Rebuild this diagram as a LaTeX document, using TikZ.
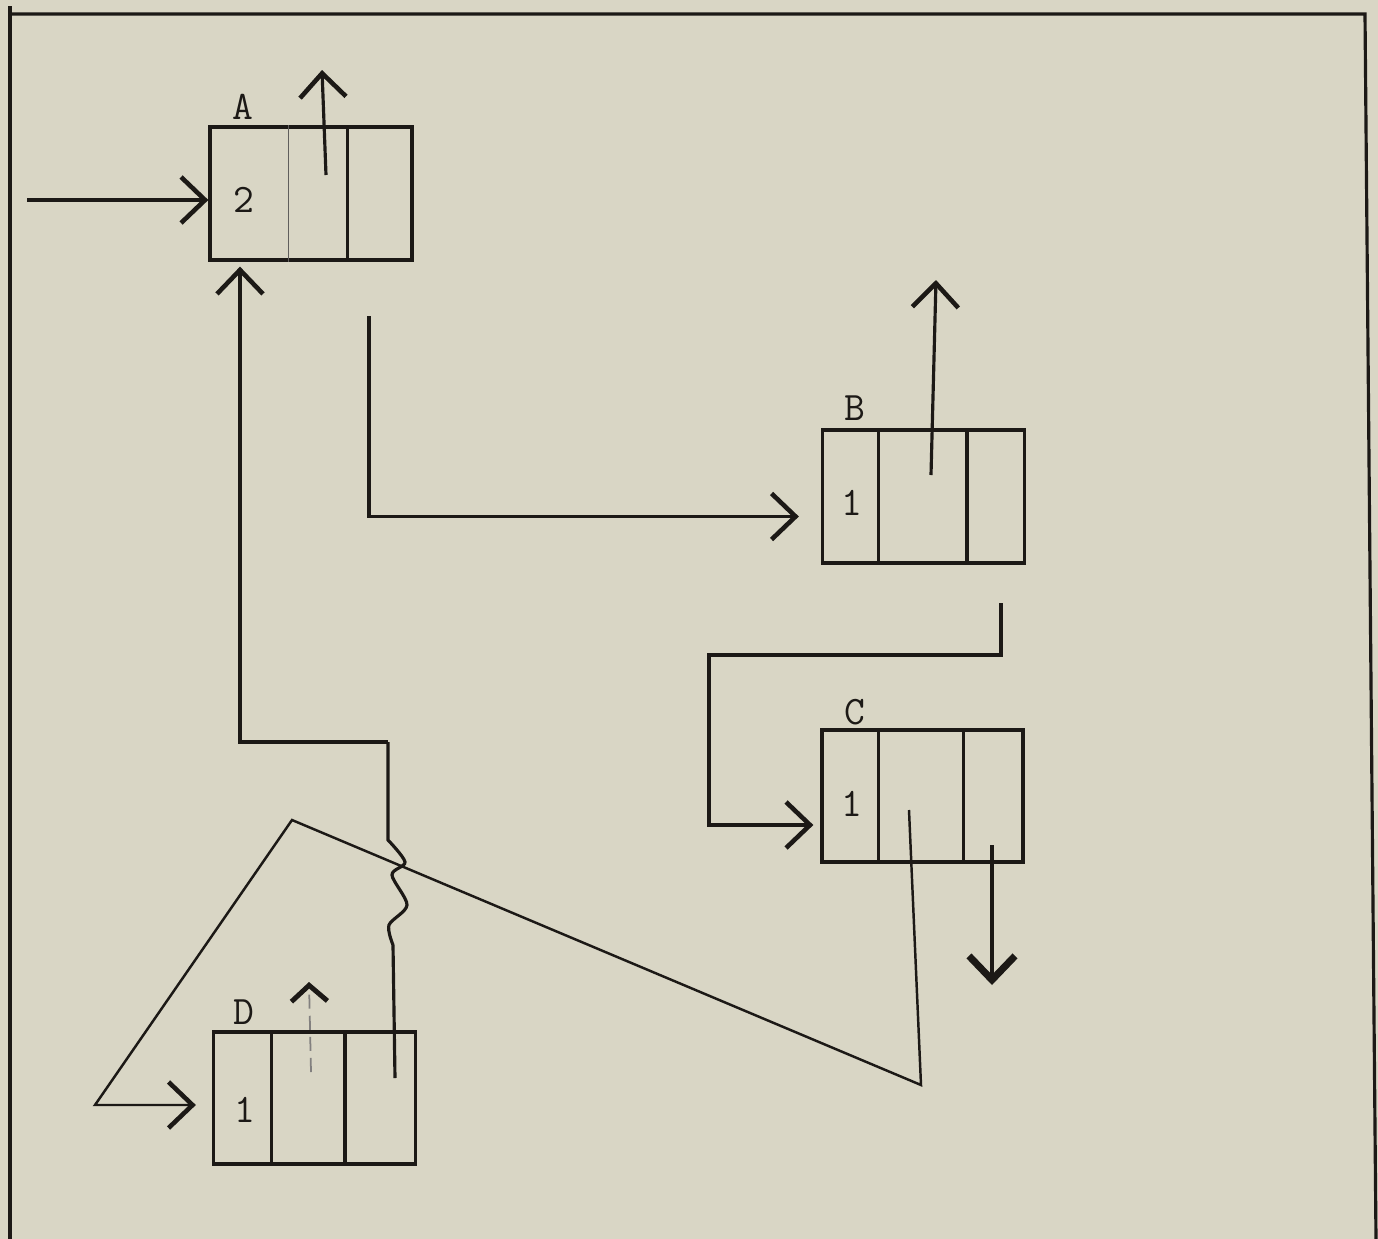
\documentclass[tikz,border=0pt]{standalone}
\usepackage{tikz}
\usetikzlibrary{arrows.meta,calc}

\definecolor{paper}{RGB}{217,214,197}
\definecolor{ink}{RGB}{28,25,22}

\begin{document}
\begin{tikzpicture}[x=0.01cm,y=-0.01cm,
    cellbox/.style={draw=ink,line width=0.9pt,inner sep=0pt,minimum width=2.02cm,minimum height=1.33cm},
    wire/.style={draw=ink,line width=0.9pt},
    ptr/.style={wire,-{Straight Barb[length=2.4mm,width=4.6mm,line width=1.3pt]}},
    tag/.style={font=\ttfamily\fontsize{11.5}{13}\selectfont,text=ink,inner sep=0pt}]

    % paper and frame
    \useasboundingbox (0,0) rectangle (1378,1239);
    \fill[paper] (0,0) rectangle (1378,1239);
    \draw[wire] (10,6) -- (10,1239);
    \draw[wire] (10,14) -- (1365,14) -- (1376,1239);

    % the four cells
    \node[cellbox] (A) at (311,193.5) {};
    \node[cellbox] (B) at (923.5,496.5) {};
    \node[cellbox,minimum width=2.01cm,minimum height=1.32cm] (C) at (922.5,796) {};
    \node[cellbox,minimum height=1.32cm] (D) at (314.5,1098) {};

    % names and counts
    \node[tag] (lA) at (243,107) {A};
    \node[tag] (lB) at (855,408) {B};
    \node[tag] (lC) at (855,712) {C};
    \node[tag] (lD) at (244,1012) {D};
    \node[tag] (nA) at (244,200) {2};
    \node[tag] (nB) at (852,503) {1};
    \node[tag] (nC) at (852,804) {1};
    \node[tag] (nD) at (245,1110) {1};

    % dividers
    \draw[ink!70,line width=0.5pt] ([xshift=0.80cm]A.north west) -- ([xshift=0.80cm]A.south west);
    \draw[wire] ([xshift=1.39cm]A.north west) -- ([xshift=1.39cm]A.south west);
    \foreach \c/\p/\q in {B/0.58/1.46, C/0.58/1.43, D/0.60/1.33} {
        \draw[wire] ([xshift=\p cm]\c.north west) -- ([xshift=\p cm]\c.south west);
        \draw[wire] ([xshift=\q cm]\c.north west) -- ([xshift=\q cm]\c.south west);
    }

    % pointers out of A
    \coordinate (inA) at (27,200);
    \draw[ptr] (inA) -- (inA -| A.west);
    \coordinate (upA0) at (326,175);
    \coordinate (upA1) at (322,70);
    \draw[ptr] (upA0) -- (upA1);
    \coordinate (ab0) at (369,316);
    \draw[ptr] (ab0) |- ([shift={(-22,20)}]B.west);

    % pointers out of B
    \coordinate (upB0) at (931,475);
    \coordinate (upB1) at (936,280);
    \draw[ptr] (upB0) -- (upB1);
    \coordinate (bc0) at (1001,603);
    \coordinate (bc1) at (709,655);
    \draw[ptr] (bc0) |- (bc1) |- ([shift={(-7,29)}]C.west);

    % pointers out of C
    \coordinate (dnC0) at (992,845);
    \coordinate (dnC1) at (992,985);
    \draw[wire,-{Straight Barb[length=2.4mm,width=4.6mm,line width=2pt]}] (dnC0) -- (dnC1);
    \coordinate (cd0) at (909,810);
    \coordinate (cd1) at (921,1085);
    \coordinate (cd2) at (292,820);
    \coordinate (cd3) at (95,1105);
    \draw[ptr,line width=0.7pt] (cd0) -- (cd1) -- (cd2) -- (cd3) -- ([shift={(-16,7)}]D.west);

    % pointers out of D
    \coordinate (upD0) at (311,1072);
    \coordinate (upD1) at (309,982);
    \draw[draw=ink!55,line width=0.5pt,dash pattern=on 4pt off 2pt,
        -{Straight Barb[length=1.6mm,width=3.6mm,line width=1.4pt,color=ink]}] (upD0) -- (upD1);
    \coordinate (da0) at (395,1078);
    \coordinate (da1) at (388,742);
    \draw[wire] (da0) -- (393,945)
        plot[smooth] coordinates {(393,945) (389,925) (407,905) (392,875) (405,862) (388,840)}
        -- (da1);
    \draw[ptr] (da1) -| ([shift={(-71,5)}]A.south);
\end{tikzpicture}
\end{document}
